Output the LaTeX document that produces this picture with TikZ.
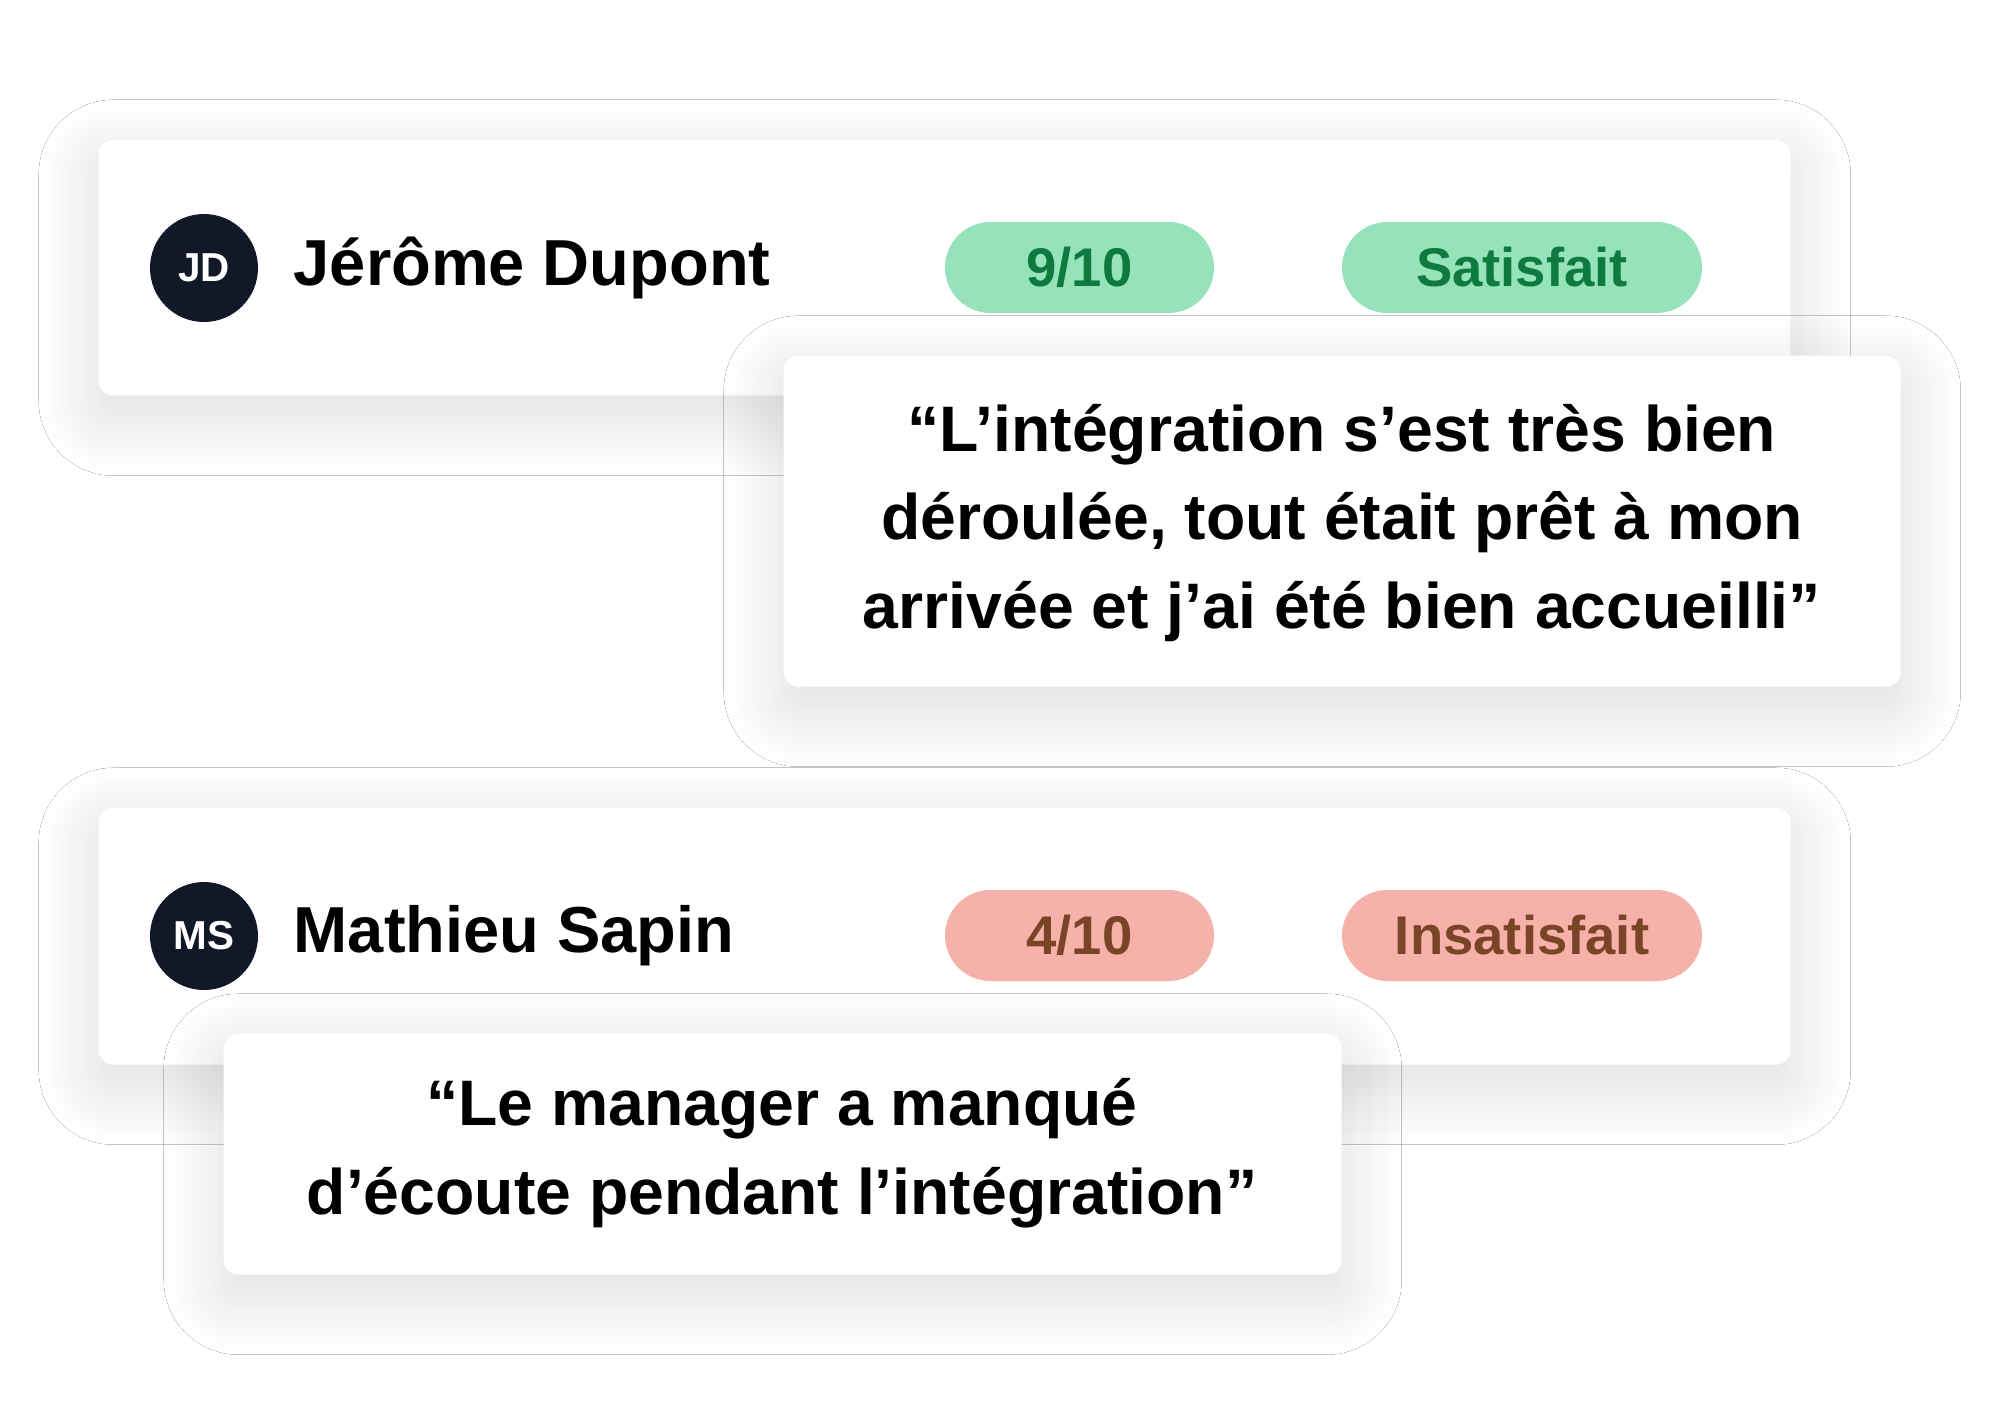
\documentclass[tikz,border=0pt]{standalone}
\usepackage{fontspec}
\setmainfont{Liberation Sans}
\usetikzlibrary{shadows.blur}
\definecolor{navy}{HTML}{111827}
\definecolor{gfill}{HTML}{96E2BB}
\definecolor{gtext}{HTML}{0E7A3E}
\definecolor{rfill}{HTML}{F5B1AA}
\definecolor{rtext}{HTML}{7A4526}
\tikzset{
 card/.style={draw=none,fill=white,rounded corners=0.15cm,anchor=north west,inner sep=0pt,
   blur shadow={shadow xshift=0cm,shadow yshift=-0.2cm,shadow blur radius=0.6cm,shadow opacity=14,shadow blur steps=25}},
 avatar/.style={circle,fill=navy,minimum size=1.08cm,inner sep=0pt,text=white,font=\bfseries\fontsize{11.5}{12}\selectfont},
 pname/.style={anchor=west,inner sep=0pt,font=\bfseries\fontsize{18.5}{22}\selectfont,text=black},
 pill/.style={rounded corners=0.455cm,minimum height=0.91cm,inner sep=0pt,font=\bfseries\fontsize{15.5}{19}\selectfont},
 gpill/.style={pill,fill=gfill,text=gtext},
 rpill/.style={pill,fill=rfill,text=rtext},
 qtext/.style={align=center,inner sep=0pt,font=\bfseries\fontsize{18.3}{25.2}\selectfont,text=black}
}
\begin{document}
\begin{tikzpicture}[x=1cm,y=-1cm]
\fill[white] (0,0) rectangle (20,14.14);
\useasboundingbox (0,0) rectangle (20,14.14);
% card 1
\node[card,minimum width=16.92cm,minimum height=2.56cm] (c1) at (0.98,1.39) {};
\node[avatar] (a1) at (2.04,2.68) {JD};
\node[pname] (n1) at (2.93,2.68) {Jérôme Dupont};
\node[gpill,minimum width=2.69cm] (s1) at (10.795,2.675) {9/10};
\node[gpill,minimum width=3.60cm] (e1) at (15.22,2.675) {Satisfait};
\node[card,minimum width=11.17cm,minimum height=3.31cm] (q1) at (7.83,3.55) {};
\node[qtext] (t1) at (13.42,5.23) {“L’intégration s’est très bien\\déroulée, tout était prêt à mon\\arrivée et j’ai été bien accueilli”};
% card 2
\node[card,minimum width=16.92cm,minimum height=2.57cm] (c2) at (0.98,8.07) {};
\node[avatar] (a2) at (2.04,9.36) {MS};
\node[pname] (n2) at (2.93,9.36) {Mathieu Sapin};
\node[rpill,minimum width=2.69cm] (s2) at (10.795,9.355) {4/10};
\node[rpill,minimum width=3.60cm] (e2) at (15.22,9.355) {Insatisfait};
\node[card,minimum width=11.18cm,minimum height=2.41cm] (q2) at (2.23,10.33) {};
\node[qtext] (t2) at (7.82,11.53) {“Le manager a manqué\\d’écoute pendant l’intégration”};
\end{tikzpicture}
\end{document}
